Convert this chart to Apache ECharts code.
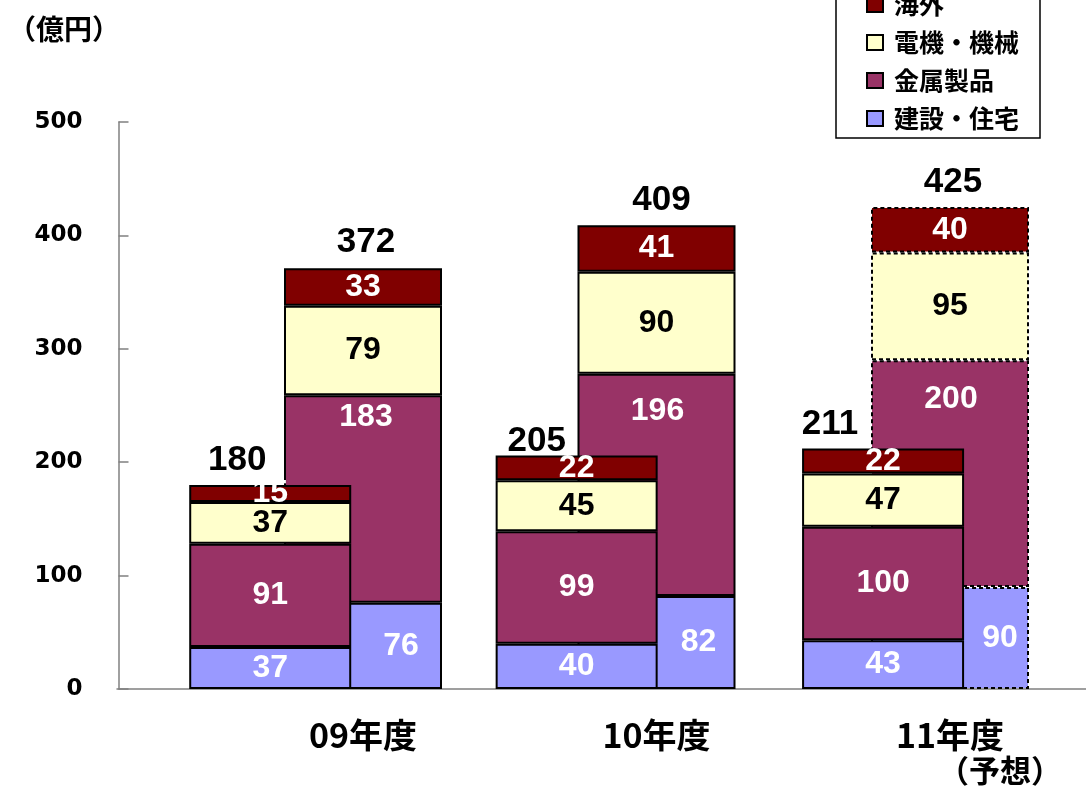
<!DOCTYPE html>
<html>
<head>
<meta charset="utf-8">
<script src="https://cdn.jsdelivr.net/npm/echarts@6/dist/echarts.min.js"></script>
<style>html,body{margin:0;padding:0;background:#fff}#c{width:1086px;height:787px}</style>
</head>
<body>
<div id="c"></div>
<script>
// ---- data ----
const categories = ['09年度', '10年度', '11年度\n（予想）'];
const seriesNames = ['建設・住宅', '金属製品', '電機・機械', '海外'];
const legendOrder = ['海外', '電機・機械', '金属製品', '建設・住宅'];
// front bars (first half)
const h1Construction = [37, 40, 43];
const h1Metal = [91, 99, 100];
const h1Electric = [37, 45, 47];
const h1Overseas = [15, 22, 22];
const h1Totals = [180, 205, 211];
// back bars (full year)
const fyConstruction = [76, 82, 90];
const fyMetal = [183, 196, 200];
const fyElectric = [79, 90, 95];
const fyOverseas = [33, 41, 40];
const fyTotals = [372, 409, 425];
const forecastIndex = 2;
const yMin = 0, yMax = 500, yStep = 100;
const unitLabel = '（億円）';

// ---- style ----
const colors = ['#9999FF', '#993366', '#FFFFCC', '#800000'];
const labelColors = ['#ffffff', '#ffffff', '#000000', '#ffffff'];
const numFont = 'Liberation Sans, Arial, sans-serif';
const cjkFont = 'Noto Sans CJK JP, sans-serif';
const axisGray = '#808080';

// labelShift: per-series list of per-category [dx, dy] label offsets (layout only)
function stackSeries(stackId, arrays, idx, z, barWidth, dashedIdx, labelShift) {
  return arrays.map((arr, i) => ({
    name: seriesNames[i],
    type: 'bar',
    stack: stackId,
    xAxisIndex: idx,
    yAxisIndex: idx,
    barWidth: barWidth,
    z: z,
    itemStyle: { color: colors[i], borderColor: '#000', borderWidth: 2 },
    label: {
      show: true, position: 'inside', color: labelColors[i],
      fontSize: 32, fontWeight: 'bold', fontFamily: numFont
    },
    data: arr.map((v, j) => {
      const d = { value: v };
      if (j === dashedIdx) d.itemStyle = { borderType: [4, 3] };
      if (labelShift && labelShift[i]) d.label = { offset: labelShift[i][j] };
      return d;
    })
  }));
}

function totalSeries(arr, idx, shifts) {
  return {
    type: 'scatter', xAxisIndex: idx, yAxisIndex: idx, z: 6, silent: true,
    symbolSize: 1, itemStyle: { color: 'transparent', opacity: 1 },
    label: {
      show: true, position: 'top', distance: 7, color: '#000', opacity: 1,
      fontSize: 35, fontWeight: 'bold', fontFamily: numFont, formatter: '{c}'
    },
    emphasis: { disabled: true },
    data: arr.map((v, j) => ({ value: v, label: { offset: shifts[j] } }))
  };
}

const chart = echarts.init(document.getElementById('c'), null, { renderer: 'canvas' });
const option = {
  backgroundColor: '#fff',
  animation: false,
  title: {
    text: unitLabel, left: 3, top: 10,
    textStyle: { fontSize: 28, fontWeight: 'bold', fontFamily: cjkFont, color: '#000' }
  },
  legend: {
    orient: 'vertical', left: 836, top: -16,
    data: legendOrder, icon: 'rect', selectedMode: false,
    itemWidth: 16, itemHeight: 15, itemGap: 13,
    padding: [8, 21, 7, 30],
    backgroundColor: '#fff', borderColor: '#000', borderWidth: 1.5, borderRadius: 0,
    itemStyle: { borderColor: '#000', borderWidth: 2 },
    textStyle: { fontSize: 25, fontWeight: 'bold', fontFamily: cjkFont, color: '#000', padding: [0, 0, 0, 6] }
  },
  grid: [
    // front bars: band layout, category centres 306.4 px apart
    { left: 117, width: 919.3, top: 122, bottom: 98 },
    // back bars: tick layout (boundaryGap false), centres 293.5 px apart
    { left: 363, width: 587, top: 122, bottom: 98 },
    // baseline axis across the plot
    { left: 117, right: 0, top: 122, bottom: 98 }
  ],
  xAxis: [
    {
      type: 'category', gridIndex: 0, data: categories,
      axisLine: { show: false }, axisTick: { show: false }, axisLabel: { show: false }
    },
    {
      type: 'category', gridIndex: 1, data: categories, boundaryGap: false,
      axisLine: { show: false },
      axisTick: { show: false },
      axisLabel: {
        margin: 28,
        formatter: function (v) {
          const parts = v.split('\n');
          let s = '{main|' + parts[0] + '}';
          if (parts[1]) s += '\n{note|' + parts[1] + '}';
          return s;
        },
        rich: {
          main: { fontSize: 34, fontWeight: 'bold', fontFamily: cjkFont, color: '#000', lineHeight: 36 },
          note: { fontSize: 31, fontWeight: 'bold', fontFamily: cjkFont, color: '#000', lineHeight: 35, padding: [0, 0, 0, 100] }
        }
      }
    },
    {
      type: 'category', gridIndex: 2, data: categories,
      axisLine: { show: true, lineStyle: { color: axisGray, width: 1.5 } },
      axisTick: { show: false }, axisLabel: { show: false }
    }
  ],
  yAxis: [
    {
      type: 'value', gridIndex: 0, min: yMin, max: yMax, interval: yStep, offset: -1.5,
      axisLine: { show: true, lineStyle: { color: axisGray, width: 1.5 } },
      axisTick: { show: true, inside: true, length: 10, lineStyle: { color: axisGray, width: 1.5 } },
      splitLine: { show: false },
      axisLabel: { margin: 36, fontSize: 23, fontWeight: 'bold', fontFamily: 'DejaVu Sans, sans-serif', color: '#000' }
    },
    {
      type: 'value', gridIndex: 1, min: yMin, max: yMax, interval: yStep, show: false,
      splitLine: { show: false }
    },
    {
      type: 'value', gridIndex: 2, min: yMin, max: yMax, interval: yStep, show: false,
      splitLine: { show: false }
    }
  ],
  series: [].concat(
    stackSeries('fy', [fyConstruction, fyMetal, fyElectric, fyOverseas], 1, 2, 158, forecastIndex,
      [[[38, 0], [42, 0], [50, 0]], [[3, -82], [1, -74], [1, -74]], null, null]),
    stackSeries('h1', [h1Construction, h1Metal, h1Electric, h1Overseas], 0, 3, 162, -1, null),
    [
      totalSeries(h1Totals, 0, [[-33, 0], [-40, 10], [-53, 0]]),
      totalSeries(fyTotals, 1, [[3, 0], [5, 0], [3, 0]])
    ]
  )
};
chart.setOption(option);
</script>
</body>
</html>
